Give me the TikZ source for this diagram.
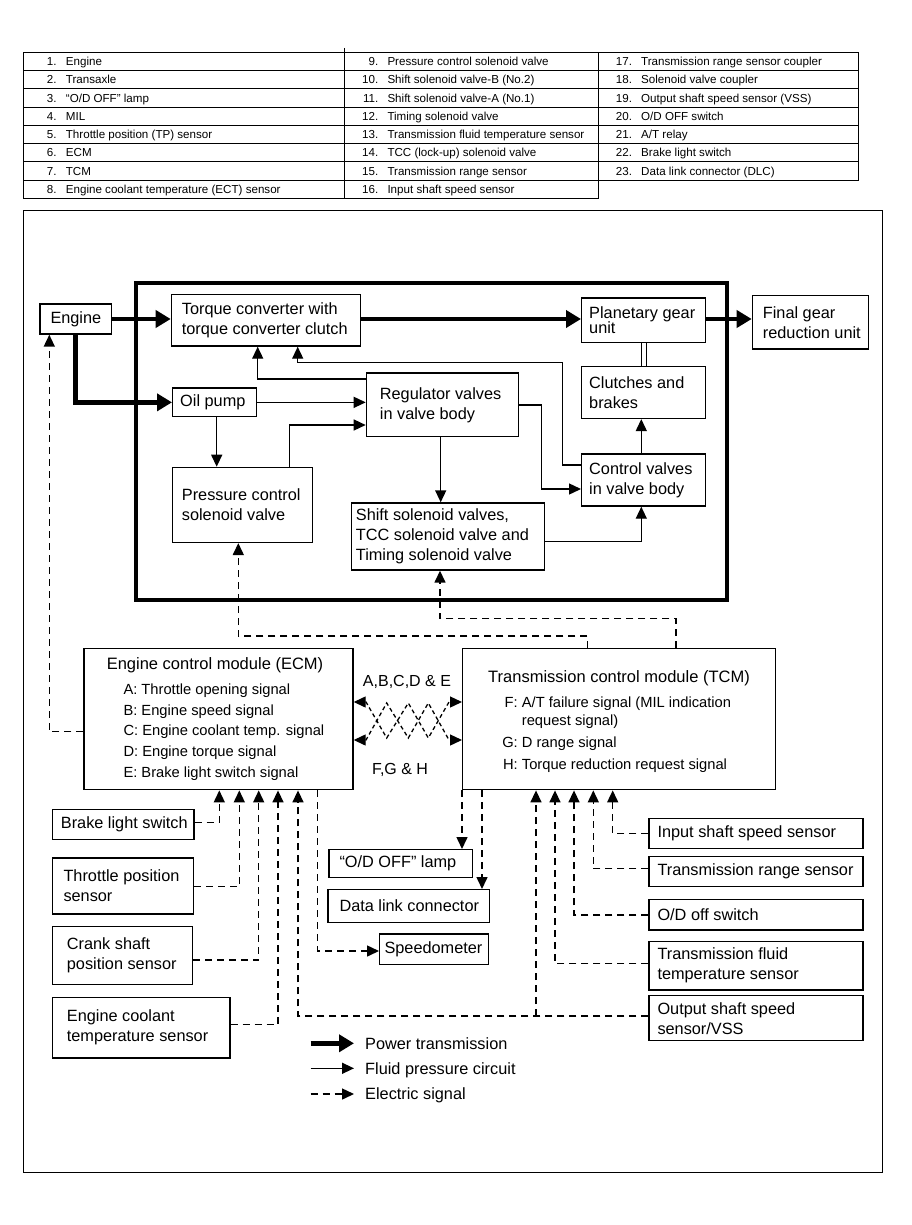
\documentclass[tikz,border=0pt]{standalone}
\usepackage{fontspec}
\setmainfont{Liberation Sans}
\usetikzlibrary{arrows.meta,calc}
\tikzset{
 bx/.style={draw, line width=1.4pt, inner sep=0pt},
 txt/.style={inner sep=0pt, align=left, font=\fontsize{16.3}{20}\selectfont},
 itm/.style={inner sep=0pt, anchor=base west, font=\fontsize{14.7}{18}\selectfont},
 ttl/.style={inner sep=0pt, anchor=base, font=\fontsize{16.5}{20}\selectfont},
 tbl/.style={inner sep=0pt, font=\fontsize{11.6}{14}\selectfont},
 power/.style={line width=4.5pt, -{Triangle[length=15pt,width=17pt]}},
 fluid/.style={line width=1.4pt, -{Triangle[length=12pt,width=11pt]}},
 elec/.style={line width=1.5pt, dash pattern=on 7pt off 5pt, -{Triangle[length=12pt,width=11pt]}},
 zig/.style={line width=1.3pt, dash pattern=on 4pt off 3pt, {Triangle[length=12pt,width=11pt]}-{Triangle[length=12pt,width=11pt]}},
}
% name, x1, y1, x2, y2, pad, text
\newcommand{\mybox}[7]{%
 \node[bx, anchor=north west, minimum width={(#4)-(#2)}, minimum height={(#5)-(#3)}] (#1) at (#2,#3) {};
 \node[txt, anchor=west] (#1t) at ([xshift=#6pt]#1.west) {#7};}
% id, xnum, numanchor, xtext, baseline, num, text
\newcommand{\trow}[7]{%
 \node[tbl, anchor=base #3] (n#1) at (#2,#5) {#6};
 \node[tbl, anchor=base west] (t#1) at (#4,#5) {#7};}
\begin{document}
\begin{tikzpicture}[x=1pt,y=-1pt]
\useasboundingbox (0,0) rectangle (912,1225);
\fill[white] (0,0) rectangle (912,1225);
% ---------- table ----------
\draw[line width=0.9pt] (23.3,52.3) rectangle (598.3,198.3);
\draw[line width=0.9pt] (344.3,48) -- (344.3,198.3);
\draw[line width=0.9pt] (598.3,52.3) -- (858.3,52.3) -- (858.3,180.3) -- (598.3,180.3);
\foreach \k in {1,...,7} {\draw[line width=0.9pt] (23.3,52.3+18.25*\k) -- (858.3,52.3+18.25*\k);}
\trow{1}{46.7}{west}{65.7}{65.6}{1.}{Engine}
\trow{2}{46.7}{west}{65.7}{83.8}{2.}{Transaxle}
\trow{3}{46.7}{west}{65.7}{102.1}{3.}{“O/D OFF” lamp}
\trow{4}{46.7}{west}{65.7}{120.3}{4.}{MIL}
\trow{5}{46.7}{west}{65.7}{138.6}{5.}{Throttle position (TP) sensor}
\trow{6}{46.7}{west}{65.7}{156.8}{6.}{ECM}
\trow{7}{46.7}{west}{65.7}{175.1}{7.}{TCM}
\trow{8}{46.7}{west}{65.7}{193.3}{8.}{Engine coolant temperature (ECT) sensor}
\trow{9}{378.5}{east}{387.3}{65.6}{9.}{Pressure control solenoid valve}
\trow{10}{378.5}{east}{387.3}{83.8}{10.}{Shift solenoid valve-B (No.2)}
\trow{11}{378.5}{east}{387.3}{102.1}{11.}{Shift solenoid valve-A (No.1)}
\trow{12}{378.5}{east}{387.3}{120.3}{12.}{Timing solenoid valve}
\trow{13}{378.5}{east}{387.3}{138.6}{13.}{Transmission fluid temperature sensor}
\trow{14}{378.5}{east}{387.3}{156.8}{14.}{TCC (lock-up) solenoid valve}
\trow{15}{378.5}{east}{387.3}{175.1}{15.}{Transmission range sensor}
\trow{16}{378.5}{east}{387.3}{193.3}{16.}{Input shaft speed sensor}
\trow{17}{615.7}{west}{641}{65.6}{17.}{Transmission range sensor coupler}
\trow{18}{615.7}{west}{641}{83.8}{18.}{Solenoid valve coupler}
\trow{19}{615.7}{west}{641}{102.1}{19.}{Output shaft speed sensor (VSS)}
\trow{20}{615.7}{west}{641}{120.3}{20.}{O/D OFF switch}
\trow{21}{615.7}{west}{641}{138.6}{21.}{A/T relay}
\trow{22}{615.7}{west}{641}{156.8}{22.}{Brake light switch}
\trow{23}{615.7}{west}{641}{175.1}{23.}{Data link connector (DLC)}
% ---------- frames ----------
\draw[line width=1pt] (23.3,210) rectangle (882,1172);
\draw[line width=4pt] (135.7,282.7) rectangle (727.3,600);
% ---------- boxes ----------
\mybox{engine}{39.3}{303.3}{110.7}{333.3}{11}{Engine}
\mybox{tc}{170.7}{294}{360}{345.3}{11}{Torque converter with\\torque converter clutch}
\mybox{oil}{172}{387.3}{256}{416}{8}{Oil pump}
\mybox{reg}{365.7}{372.3}{517.7}{436}{14}{Regulator valves\\in valve body}
\mybox{pcsv}{172}{466.7}{311.7}{541.7}{9.7}{Pressure control\\solenoid valve}
\mybox{ssv}{351}{502.3}{544}{569.3}{4.7}{Shift solenoid valves,\\TCC solenoid valve and\\Timing solenoid valve}
\mybox{pgu}{581}{297.3}{705}{341.7}{8}{Planetary gear\\[-4.4pt]unit}
\mybox{fg}{751.7}{294.7}{868}{348.3}{11}{Final gear\\reduction unit}
\mybox{cb}{581}{365.7}{705}{417.7}{8}{Clutches and\\brakes}
\mybox{cv}{581}{453.3}{705}{505.3}{8}{Control valves\\in valve body}
\mybox{bls}{51.7}{809}{193.3}{839}{9}{Brake light switch}
\mybox{tps}{51.7}{857.3}{192.7}{913.3}{11.6}{Throttle position\\sensor}
\mybox{ckp}{51.7}{925.7}{191.7}{984}{15}{Crank shaft\\position sensor}
\mybox{ect}{51.7}{996.7}{229.3}{1057.3}{15}{Engine coolant\\temperature sensor}
\mybox{odl}{328.3}{849}{471.7}{876.7}{11}{“O/D OFF” lamp}
\mybox{dlc}{327.3}{889}{489}{921.7}{12}{Data link connector}
\mybox{spd}{379}{933.3}{487.7}{964}{5.3}{Speedometer}
\mybox{iss}{648.3}{817.7}{862.3}{847.7}{9}{Input shaft speed sensor}
\mybox{trs}{648.3}{855.7}{862.3}{885.7}{9}{Transmission range sensor}
\mybox{ods}{648.3}{899}{862.3}{929.3}{9}{O/D off switch}
\mybox{tft}{648.3}{940.7}{862.3}{989.3}{9}{Transmission fluid\\temperature sensor}
\mybox{oss}{648.3}{995}{862.3}{1040}{9}{Output shaft speed\\sensor/VSS}
% ECM
\node[bx, anchor=north west, minimum width=269, minimum height=141.3] (ecm) at (83.3,647.7) {};
\node[ttl] (ecmttl) at (215,669) {Engine control module (ECM)};
\node[itm] (ecma) at (123.3,694.6) {A: Throttle opening signal};
\node[itm] (ecmb) at (123.3,715.3) {B: Engine speed signal};
\node[itm] (ecmc) at (123.3,735.3) {C: Engine coolant temp. signal};
\node[itm] (ecmd) at (123.3,756.3) {D: Engine torque signal};
\node[itm] (ecme) at (123.3,777) {E: Brake light switch signal};
% TCM
\node[bx, anchor=north west, minimum width=313, minimum height=141.3] (tcm) at (462,647.7) {};
\node[ttl] (tcmttl) at (619,682) {Transmission control module (TCM)};
\node[itm, anchor=base east] (tcmfl) at (518,707) {F:};
\node[itm] (tcmf) at (521.7,707) {A/T failure signal (MIL indication};
\node[itm] (tcmf2) at (521.7,725.3) {request signal)};
\node[itm, anchor=base east] (tcmgl) at (518,747.6) {G:};
\node[itm] (tcmg) at (521.7,747.6) {D range signal};
\node[itm, anchor=base east] (tcmhl) at (518,769.3) {H:};
\node[itm] (tcmh) at (521.7,769.3) {Torque reduction request signal};
\node[ttl, font=\fontsize{16}{20}\selectfont] (abcde) at (407,686.4) {A,B,C,D \& E};
\node[ttl, font=\fontsize{16}{20}\selectfont] (fgh) at (400,774) {F,G \& H};
% ---------- power ----------
\draw[power] (engine.east) -- (engine.east -| tc.west);
\draw[power] (engine.south) |- (oil.west);
\draw[power] (tc.east |- engine.east) -- (pgu.west |- engine.east);
\draw[power] (pgu.east |- engine.east) -- (fg.west |- engine.east);
% ---------- fluid ----------
\draw[fluid] (oil.east) -- (oil.east -| reg.west);
\draw[fluid] (pcsv.north -| 289.3,0) |- (reg.west |- 0,425);
\draw[fluid] (oil.south -| 216.7,0) -- (pcsv.north -| 216.7,0);
\draw[fluid] (reg.west |- 0,379) -| (tc.south -| 257.7,0);
\coordinate (w1) at (562.7,362.7);
\draw[fluid] (cv.west |- 0,465) -| (w1) -| (tc.south -| 297.7,0);
\coordinate (w2) at (541.7,489);
\draw[fluid] (reg.east |- 0,405) -| (w2) -- (cv.west |- w2);
\draw[fluid] (reg.south -| 440.7,0) -- (ssv.north -| 440.7,0);
\draw[fluid] (ssv.east |- 0,541.7) -| (cv.south -| 641.3,0);
\draw[fluid] (cv.north -| 641.3,0) -- (cb.south -| 641.3,0);
\draw[line width=1.3pt, double distance=4pt] (pgu.south -| 644,0) -- (cb.north -| 644,0);
% ---------- electric ----------
\draw[elec] (ecm.west |- 0,731.7) -| (engine.south -| 49.3,0);
\coordinate (w3) at (238.3,636);
\draw[elec] (tcm.north -| 587.7,0) |- (w3) -- (pcsv.south -| w3);
\coordinate (w4) at (440,618.3);
\draw[elec] (tcm.north -| 676,0) |- (w4) -- (ssv.south -| w4);
\draw[zig] (ecm.east |- 0,702) -- (366,702) -- (386.7,738) -- (408.3,703) -- (428.3,738) -- (449,702) -- (tcm.west |- 0,702);
\draw[zig] (ecm.east |- 0,740) -- (366,740) -- (386.7,703) -- (408.3,738) -- (428.3,703) -- (449,740) -- (tcm.west |- 0,740);
\draw[elec] (bls.east |- 0,822.3) -| (ecm.south -| 219.3,0);
\draw[elec] (tps.east |- 0,886.7) -| (ecm.south -| 239.3,0);
\draw[elec] (ckp.east |- 0,960) -| (ecm.south -| 258.7,0);
\draw[elec] (ect.east |- 0,1024.3) -| (ecm.south -| 278,0);
\draw[elec] (oss.west |- 0,1016) -| (ecm.south -| 298,0);
\coordinate (w5) at (536,1016);
\draw[elec] (w5) -- (tcm.south -| w5);
\draw[elec] (ecm.south -| 317.7,0) |- (spd.west |- 0,951);
\draw[elec] (tcm.south -| 462,0) -- (odl.north -| 462,0);
\draw[elec] (tcm.south -| 482,0) -- (dlc.north -| 482,0);
\draw[elec] (iss.west |- 0,833.3) -| (tcm.south -| 612.7,0);
\draw[elec] (trs.west |- 0,868.7) -| (tcm.south -| 593.3,0);
\draw[elec] (ods.west |- 0,915) -| (tcm.south -| 574,0);
\draw[elec] (tft.west |- 0,963.3) -| (tcm.south -| 555,0);
% ---------- legend ----------
\node[txt, anchor=base west] (lg1) at (365,1049.1) {Power transmission};
\node[txt, anchor=base west] (lg2) at (365,1074.1) {Fluid pressure circuit};
\node[txt, anchor=base west] (lg3) at (365,1099.8) {Electric signal};
\draw[power] ($(lg1.base west)+(-54.3,-5.8)$) -- ($(lg1.base west)+(-11,-5.8)$);
\draw[fluid] ($(lg2.base west)+(-54.3,-5.8)$) -- ($(lg2.base west)+(-11,-5.8)$);
\draw[elec] ($(lg3.base west)+(-54.3,-5.8)$) -- ($(lg3.base west)+(-11,-5.8)$);
\end{tikzpicture}
\end{document}
